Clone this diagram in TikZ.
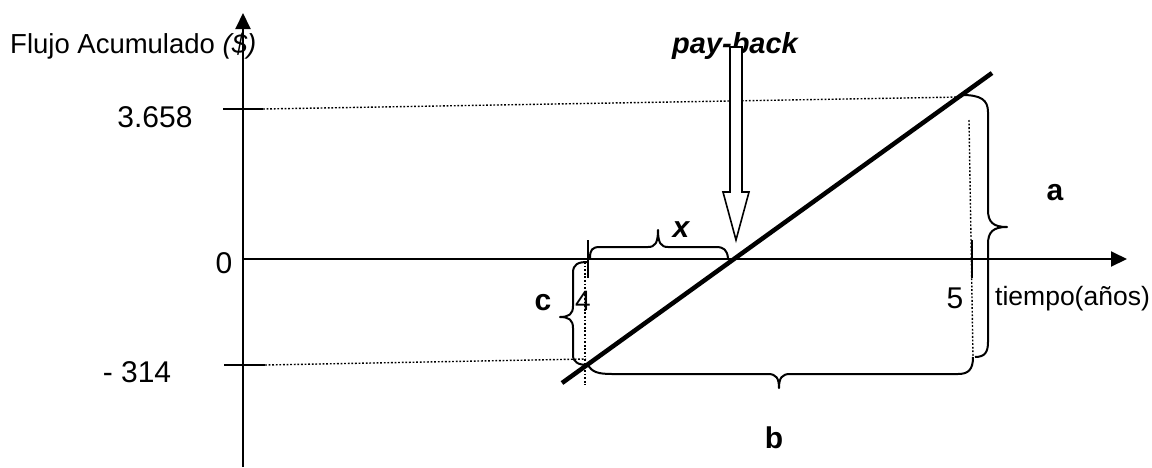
\documentclass[tikz,border=0pt]{standalone}
\usepackage{fontspec}
\setmainfont{Liberation Sans}
\usetikzlibrary{arrows.meta}
\tikzset{
  axis/.style={line width=2pt, -{Triangle[length=16pt,width=15pt]}},
  tick/.style={line width=2pt},
  guide/.style={line width=1.4pt, dash pattern=on 1.8pt off 1.8pt},
  brace/.style={line width=2pt, line join=round},
  flow/.style={line width=4.5pt},
  blockarrow/.style={line width=1.6pt, fill=white, line join=miter},
  small/.style={font=\fontsize{26.5}{30}\selectfont, inner sep=0pt},
  big/.style={font=\fontsize{30}{34}\selectfont, inner sep=0pt},
  letter/.style={font=\fontsize{30}{34}\selectfont\bfseries, inner sep=0pt},
}
\begin{document}
\begin{tikzpicture}[x=1pt,y=-1pt]
\useasboundingbox (0,0) rectangle (1152,467);
% coordinates
\coordinate (ybot) at (243,467);
\coordinate (ytop) at (243,13);
\coordinate (xstart) at (243,259);
\coordinate (xend) at (1127,259);
\coordinate (P1) at (562,383);
\coordinate (P2) at (992,73);
% axes
\draw[axis] (ybot) -- (ytop);
\draw[axis] (xstart) -- (xend);
% ticks on y axis
\coordinate (t1a) at (223,109); \coordinate (t1b) at (263,109);
\coordinate (t2a) at (224,365); \coordinate (t2b) at (265,365);
\draw[tick] (t1a) -- (t1b);
\draw[tick] (t2a) -- (t2b);
% ticks on x axis
\coordinate (t4a) at (588,240); \coordinate (t4b) at (588,278);
\coordinate (t5a) at (972,240); \coordinate (t5b) at (972,278);
\draw[line width=1.5pt] (t4a) -- (t4b);
\draw[line width=1.5pt] (t5a) -- (t5b);
% dotted guides
\coordinate (g1) at (962,97);
\coordinate (g2) at (586,359);
\coordinate (g3a) at (585,262); \coordinate (g3b) at (585,385);
\coordinate (g4a) at (969,120); \coordinate (g4b) at (973,357);
\draw[guide] (t1b) -- (g1);
\draw[guide] (t2b) -- (g2);
\draw[guide] (g3a) -- (g3b);
\draw[guide] (g4a) -- (g4b);
% flow line
\draw[flow] (P1) -- (P2);
% braces
% x brace (tip up)
\draw[brace] (590,258) .. controls (590,250) and (592,247) .. (600,247) -- (648,247)
  .. controls (655,247) and (658,243) .. (658,230)
  .. controls (658,243) and (661,247) .. (668,247) -- (716,247)
  .. controls (724,247) and (727,250) .. (728,258);
% c brace (tip left)
\draw[brace] (588,262) .. controls (578,262) and (573,264) .. (573,273) -- (573,306)
  .. controls (573,314) and (569,317) .. (560,317)
  .. controls (569,317) and (573,320) .. (573,328) -- (573,355)
  .. controls (573,362) and (578,365) .. (588,365);
% b brace (tip down)
\draw[brace] (588,365) .. controls (592,372) and (598,374) .. (612,374) -- (768,374)
  .. controls (776,374) and (779,378) .. (779,388)
  .. controls (779,378) and (782,374) .. (790,374) -- (958,374)
  .. controls (968,374) and (973,370) .. (973,357);
% a brace (tip right)
\draw[brace] (962,95) .. controls (981,95) and (988,100) .. (988,112) -- (988,210)
  .. controls (988,222) and (993,227) .. (1007,227)
  .. controls (993,227) and (988,232) .. (988,244) -- (988,342)
  .. controls (988,352) and (985,357) .. (975,357);
% labels
\node[font=\fontsize{27.5}{31}\selectfont, inner sep=0pt, anchor=base west] (ylabel) at (10,53) {Flujo Acumulado \textit{(\$)}};
\node[big, anchor=base] (v3658) at (155,127) {3.658};
\node[big, anchor=base] (v0) at (224,273) {0};
\node[big, anchor=base] (v314) at (137,382) {- 314};
\node[font=\fontsize{28}{32}\selectfont, inner sep=0pt, anchor=base] (l4) at (583,310) {4};
\node[big, anchor=base] (l5) at (955,308) {5};
\node[small, anchor=base west] (xlabel) at (995,305) {tiempo(años)};
\node[letter, anchor=base] (la) at (1055,200) {a};
\node[letter, anchor=base] (lb) at (774,448) {b};
\node[letter, anchor=base] (lc) at (543,310) {c};
\node[letter, anchor=base, font=\fontsize{30}{34}\selectfont\bfseries\itshape] (lx) at (681,237) {x};
% pay-back
\node[font=\fontsize{29}{33}\selectfont\bfseries\itshape, inner sep=0pt, anchor=base] (pb) at (735,53) {pay-back};
\draw[blockarrow] (730,47) -- (742,47) -- (742,192) -- (749,192) -- (736,240) -- (723,192) -- (730,192) -- cycle;
\end{tikzpicture}
\end{document}
